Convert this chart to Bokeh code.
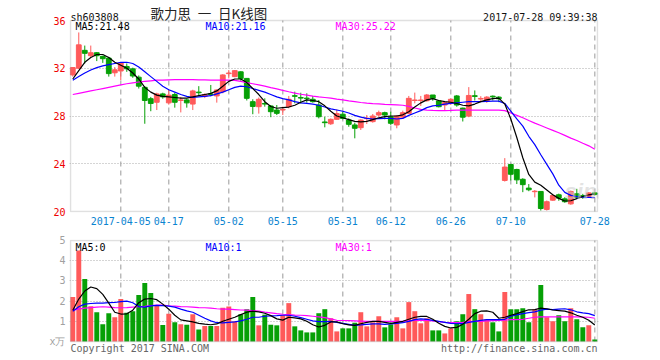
from bokeh.plotting import figure
from bokeh.models import Range1d, FixedTicker, BoxAnnotation
from bokeh.core.properties import value
from bokeh.layouts import column
from bokeh.embed import file_html
from bokeh.resources import INLINE

# ---------------- data ----------------
opens = [31.44, 32.0, 33.5, 33.05, 33.3, 33.0, 32.85, 31.62, 31.77, 32.15,
         31.95, 31.25, 30.4, 29.45, 29.15, 29.85, 29.1, 29.8, 29.3, 29.35,
         29.0, 30.0, 29.65, 29.85, 29.68, 30.04, 31.55, 31.3, 31.7, 31.15,
         29.2, 28.78, 29.05, 28.84, 28.5, 28.5, 28.78, 29.7, 29.55, 29.5,
         29.4, 28.92, 27.5, 27.35, 27.72, 28.15, 27.66, 27.25, 27.02, 27.78,
         27.53, 28.08, 28.28, 27.94, 27.25, 27.9, 28.22, 29.3, 29.3, 29.28,
         29.76, 29.26, 28.92, 29.12, 29.68, 28.66, 27.99, 29.7, 29.42, 29.22,
         29.66, 29.58, 22.6, 23.94, 23.52, 22.7, 21.96, 21.66, 21.68, 20.17,
         20.95, 21.4, 21.06, 20.64, 21.48, 21.34, 21.28, 21.56]
highs = [32.1, 35.0, 33.9, 33.9, 33.35, 33.05, 32.95, 32.1, 32.5, 32.4,
         32.05, 31.4, 30.5, 29.6, 29.95, 29.95, 30.2, 29.95, 29.6, 29.45,
         30.2, 30.5, 29.9, 30.6, 30.23, 31.5, 31.85, 31.85, 31.75, 31.15,
         29.4, 29.55, 29.48, 28.92, 28.92, 28.78, 29.68, 30.04, 29.95, 29.9,
         29.68, 29.34, 27.94, 27.8, 28.55, 28.36, 27.8, 27.44, 27.72, 28.08,
         28.17, 28.45, 28.36, 28.36, 28.08, 28.45, 29.68, 29.96, 29.68, 29.84,
         29.76, 29.34, 29.12, 29.48, 29.76, 28.7, 30.42, 30.14, 29.66, 29.66,
         29.72, 29.66, 24.47, 23.94, 23.58, 22.79, 22.3, 21.8, 21.68, 20.92,
         21.45, 21.5, 21.2, 21.76, 21.9, 21.48, 21.62, 21.62]
lows = [31.3, 31.95, 32.4, 32.9, 32.6, 32.45, 31.3, 31.3, 31.0, 31.7,
        31.2, 30.3, 27.35, 28.4, 28.5, 29.45, 28.95, 28.7, 28.3, 28.7,
        28.5, 29.7, 29.5, 29.65, 29.12, 29.9, 31.15, 31.25, 30.95, 29.3,
        28.15, 28.2, 28.78, 27.9, 28.08, 28.08, 28.64, 29.06, 29.06, 29.12,
        29.12, 27.8, 27.05, 27.25, 27.7, 27.72, 27.1, 26.13, 26.83, 27.33,
        27.44, 27.94, 27.72, 27.25, 26.97, 27.8, 28.17, 29.06, 28.84, 29.2,
        29.28, 28.72, 28.45, 28.92, 28.78, 27.54, 27.9, 29.3, 29.22, 29.1,
        29.3, 29.16, 22.51, 22.6, 22.3, 21.62, 21.7, 21.18, 20.08, 20.08,
        20.9, 20.9, 20.73, 20.56, 21.06, 21.06, 21.2, 21.34]
closes = [32.06, 33.96, 33.25, 33.3, 33.05, 32.8, 31.55, 31.87, 32.44, 31.95,
          31.35, 30.5, 29.3, 29.05, 29.85, 29.6, 29.75, 29.15, 29.35, 29.1,
          30.1, 29.95, 29.8, 29.8, 30.18, 31.44, 31.6, 31.8, 31.15, 29.48,
          28.8, 29.4, 29.0, 28.36, 28.22, 28.55, 29.4, 29.65, 29.5, 29.45,
          29.2, 27.94, 27.44, 27.72, 28.2, 27.8, 27.3, 26.97, 27.66, 27.82,
          28.0, 28.28, 28.08, 27.39, 28.0, 28.28, 29.48, 29.34, 29.34, 29.76,
          29.48, 28.78, 29.12, 29.4, 28.92, 27.9, 29.72, 29.64, 29.47, 29.58,
          29.6, 29.44, 23.72, 23.12, 22.65, 22.25, 21.82, 21.7, 20.25, 20.82,
          21.34, 21.12, 20.82, 21.68, 21.2, 21.22, 21.56, 21.42]
volumes = [2.2, 4.5, 3.1, 1.75, 1.45, 0.85, 1.4, 1.2, 2.1, 1.42,
           1.5, 2.3, 2.9, 2.4, 1.77, 0.82, 1.37, 0.95, 0.85, 0.83,
           1.35, 0.6, 0.77, 0.77, 0.77, 1.67, 1.73, 1.0, 1.35, 1.6,
           2.2, 0.8, 1.33, 0.83, 0.8, 1.3, 1.9, 0.75, 0.55, 0.45,
           0.45, 1.4, 1.6, 1.15, 0.5, 0.65, 0.65, 0.93, 1.45, 0.75,
           0.95, 1.25, 0.7, 0.85, 1.2, 0.65, 1.95, 1.5, 0.9, 1.15,
           0.55, 0.55, 0.4, 0.65, 1.0, 1.35, 2.35, 1.6, 1.35, 1.1,
           0.95, 0.5, 2.45, 1.6, 1.6, 1.65, 0.95, 1.6, 2.8, 1.2,
           1.0, 1.3, 1.0, 1.65, 1.1, 0.7, 0.8, 0.1]

ma5 = [31.1, 31.8, 32.5, 32.9, 33.15, 33.15, 32.9, 32.5, 32.25, 32.0,
       31.6, 31.1, 30.4, 30.0, 29.75, 29.65, 29.6, 29.55, 29.5, 29.5,
       29.6, 29.7, 29.8, 29.9, 30.1, 30.5, 30.9, 31.1, 31.1, 30.8,
       30.3, 29.8, 29.2, 28.8, 28.65, 28.7, 28.75, 28.9, 29.15, 29.35,
       29.3, 29.2, 28.85, 28.4, 28.0, 27.85, 27.7, 27.55, 27.5, 27.55,
       27.7, 27.85, 27.95, 28.0, 28.0, 28.1, 28.35, 28.75, 29.1, 29.35,
       29.45, 29.3, 29.2, 29.15, 29.05, 28.9, 28.85, 29.0, 29.2, 29.35,
       29.45, 29.5, 29.0, 27.75, 26.2, 24.5, 23.1, 22.46, 22.2, 21.8,
       21.4, 21.1, 20.88, 20.9, 21.08, 21.26, 21.4, 21.48]
ma10 = [31.0, 31.3, 31.6, 31.85, 32.05, 32.2, 32.3, 32.4, 32.5, 32.5,
        32.4, 32.1, 31.7, 31.3, 30.9, 30.5, 30.2, 30.0, 29.8, 29.65,
        29.55, 29.6, 29.65, 29.7, 29.85, 30.0, 30.2, 30.4, 30.5, 30.45,
        30.3, 30.15, 30.0, 29.8, 29.6, 29.45, 29.35, 29.2, 29.1, 29.05,
        29.0, 28.9, 28.75, 28.6, 28.5, 28.4, 28.25, 28.05, 27.9, 27.8,
        27.75, 27.78, 27.8, 27.8, 27.75, 27.8, 28.05, 28.25, 28.45, 28.7,
        28.85, 28.9, 29.0, 29.05, 29.1, 29.15, 29.2, 29.2, 29.2, 29.22,
        29.25, 29.25, 29.05, 28.4, 27.75, 27.15, 26.3, 25.6, 24.75, 23.95,
        23.15, 22.2, 21.6, 21.35, 21.25, 21.2, 21.18, 21.16]
ma30 = [29.8, 29.9, 30.0, 30.1, 30.2, 30.3, 30.4, 30.5, 30.6, 30.7,
        30.78, 30.85, 30.9, 30.95, 31.0, 31.0, 31.03, 31.05, 31.05, 31.05,
        31.05, 31.03, 31.02, 31.0, 31.0, 31.0, 31.0, 30.98, 30.9, 30.8,
        30.7, 30.6, 30.5, 30.38, 30.27, 30.15, 30.03, 29.92, 29.82, 29.75,
        29.67, 29.6, 29.55, 29.5, 29.42, 29.35, 29.27, 29.2, 29.13, 29.08,
        29.04, 29.01, 28.98, 28.96, 28.94, 28.9, 28.8, 28.67, 28.56, 28.5,
        28.47, 28.45, 28.45, 28.47, 28.5, 28.5, 28.5, 28.5, 28.5, 28.5,
        28.5, 28.5, 28.45, 28.25, 28.05, 27.85, 27.62, 27.4, 27.2, 27.0,
        26.8, 26.6, 26.38, 26.15, 25.95, 25.72, 25.5, 25.22]

vma5 = [1.55, 2.1, 2.5, 2.7, 2.62, 2.33, 1.9, 1.45, 1.36, 1.37,
        1.55, 1.92, 2.1, 2.13, 2.07, 1.85, 1.6, 1.3, 1.07, 1.02,
        0.97, 0.9, 0.86, 0.83, 0.87, 1.0, 1.1, 1.2, 1.33, 1.45,
        1.5, 1.47, 1.4, 1.28, 1.12, 1.06, 1.2, 1.17, 1.12, 1.0,
        0.83, 0.72, 0.8, 0.97, 0.97, 0.88, 0.82, 0.8, 0.88, 0.95,
        1.0, 1.0, 0.95, 0.9, 0.95, 1.0, 1.1, 1.2, 1.24, 1.24,
        1.1, 0.9, 0.75, 0.67, 0.7, 0.85, 1.1, 1.38, 1.5, 1.52,
        1.45, 1.15, 1.2, 1.3, 1.38, 1.48, 1.57, 1.58, 1.65, 1.62,
        1.56, 1.53, 1.5, 1.42, 1.3, 1.2, 1.05, 0.82]
vma10 = [1.5, 1.72, 1.85, 1.88, 1.9, 1.9, 1.92, 1.93, 1.97, 2.0,
         1.92, 1.73, 1.7, 1.76, 1.79, 1.78, 1.75, 1.7, 1.6, 1.52,
         1.45, 1.3, 1.15, 1.02, 0.93, 0.92, 0.95, 0.97, 1.02, 1.1,
         1.2, 1.2, 1.25, 1.27, 1.28, 1.3, 1.3, 1.25, 1.18, 1.1,
         1.02, 0.98, 0.98, 1.0, 0.95, 0.9, 0.85, 0.8, 0.82, 0.85,
         0.87, 0.87, 0.85, 0.87, 0.9, 0.93, 1.0, 1.08, 1.12, 1.1,
         1.05, 1.0, 0.95, 0.9, 0.88, 0.88, 0.95, 1.0, 1.05, 1.08,
         1.08, 1.08, 1.1, 1.25, 1.32, 1.38, 1.43, 1.47, 1.55, 1.6,
         1.58, 1.6, 1.62, 1.57, 1.47, 1.42, 1.38, 1.28]
vma30 = [1.55, 1.6, 1.65, 1.68, 1.7, 1.72, 1.7, 1.68, 1.67, 1.68,
         1.7, 1.72, 1.74, 1.78, 1.8, 1.8, 1.77, 1.75, 1.73, 1.72,
         1.7, 1.68, 1.67, 1.65, 1.62, 1.6, 1.6, 1.58, 1.56, 1.55,
         1.53, 1.5, 1.45, 1.42, 1.38, 1.35, 1.33, 1.31, 1.3, 1.28,
         1.25, 1.22, 1.18, 1.12, 1.05, 1.04, 1.03, 1.02, 1.01, 1.0,
         1.0, 1.0, 1.0, 1.0, 1.0, 1.0, 1.02, 1.04, 1.05, 1.05,
         1.02, 0.98, 0.95, 0.93, 0.93, 0.95, 0.98, 1.0, 1.0, 1.02,
         1.03, 1.04, 1.06, 1.08, 1.08, 1.1, 1.15, 1.2, 1.22, 1.22,
         1.22, 1.22, 1.22, 1.22, 1.22, 1.21, 1.2, 1.15]

tick_idx = [8, 16, 26, 35, 45, 53, 63, 73, 87]
tick_labels = ["2017-04-05", "04-17", "05-02", "05-15", "05-31",
               "06-12", "06-26", "07-10", "07-28"]
price_ticks = [20, 24, 28, 32, 36]
vol_ticks = [0, 1, 2, 3, 4, 5]

stock_code = "sh603808"
chart_title = "歌力思\u2002一\u2002日K线图"
timestamp = "2017-07-28 09:39:38"
copyright_text = "Copyright 2017 SINA.COM"
site_text = "http://finance.sina.com.cn"

# ---------------- styling ----------------
RED = "#ff5a5a"
GREEN = "#06a006"
GRID = "#aaaaaa"
FRAME = "#999999"
MONO = "DejaVu Sans Mono"

n = len(closes)
xs = list(range(n))
colors = [RED if c >= o else GREEN for o, c in zip(opens, closes)]
body_top = [max(o, c) for o, c in zip(opens, closes)]
body_bot = [min(o, c) for o, c in zip(opens, closes)]

# x: 6 px per bar, chart box from index XL to XR; frame 1px wider each side
XL, XR = -0.38, 87.45
XPX = 6.0
xr = Range1d(XL - 1 / XPX, XR + 1 / XPX)

P_LO, P_HI = price_ticks[0], price_ticks[-1]
PPX = 191 / (P_HI - P_LO)          # px per price unit
V_LO, V_HI = vol_ticks[0], vol_ticks[-1]
VPX = 101 / (V_HI - V_LO)          # px per volume unit


def style(fig):
    fig.background_fill_color = "white"
    fig.border_fill_color = "white"
    fig.outline_line_color = None
    for ax in (fig.xaxis, fig.yaxis):
        ax.axis_line_color = None
        ax.major_tick_in = 0
        ax.major_tick_out = 0
        ax.minor_tick_line_color = None
        ax.major_label_text_font = MONO
        ax.major_label_text_font_size = "10px"
    fig.xgrid.visible = False
    fig.ygrid.grid_line_color = GRID
    fig.ygrid.grid_line_dash = "1 2"
    fig.ygrid.grid_line_width = 1


# ---------------- price chart ----------------
p = figure(width=660, height=232, x_range=xr,
           y_range=Range1d(P_LO - 1 / PPX, P_HI + 20 / PPX),
           output_backend="svg", toolbar_location=None, title=None,
           min_border_left=69, min_border_right=62, min_border_top=0,
           min_border_bottom=20)
style(p)
p.yaxis.ticker = FixedTicker(ticks=price_ticks)
p.yaxis.major_label_text_color = "#ee0000"
p.yaxis.major_label_standoff = 4
p.xaxis.ticker = FixedTicker(ticks=tick_idx)
p.xaxis.major_label_overrides = {t: l for t, l in zip(tick_idx, tick_labels)}
p.xaxis.major_label_text_color = "#0a84d0"
p.xaxis.major_label_standoff = 4
p.ygrid.ticker = FixedTicker(ticks=price_ticks[1:-1])

p.segment(x0=tick_idx, y0=[P_LO] * len(tick_idx), x1=tick_idx,
          y1=[P_HI] * len(tick_idx), line_color=GRID, line_dash="5 4",
          line_width=1.2)
p.add_layout(BoxAnnotation(left=XL, right=XR, bottom=P_LO, top=P_HI,
                           fill_color=None, line_color=FRAME, line_width=1.5))

p.segment(xs, highs, xs, lows, color=colors, line_width=1)
p.vbar(x=xs, width=0.8, top=body_top, bottom=body_bot,
       fill_color=colors, line_color=colors, line_width=1)
p.line(xs, ma30, color="#ff00ff", line_width=1.2)
p.line(xs, ma10, color="#0000ff", line_width=1.2)
p.line(xs, ma5, color="black", line_width=1.2)

p.text(x=[82.0], y=[20.6], text=["sina"], text_font=value("Liberation Sans"),
       text_font_style="bold italic", text_font_size="22px",
       text_color="#cccccc", text_alpha=0.55)

p.text(x=[0.45, 22.1, 43.8],
       y=[P_HI - 6 / PPX] * 3,
       text=["MA5:%.2f" % ma5[-1], "MA10:%.2f" % ma10[-1], "MA30:%.2f" % ma30[-1]],
       text_color=["black", "#0000ff", "#ff00ff"],
       text_font=value(MONO), text_font_size="10px", text_baseline="middle")

p.text(x=[XL], y=[P_HI + 3.5 / PPX], text=[stock_code], text_font=value(MONO),
       text_font_size="10px", text_color="#111111", text_baseline="alphabetic")
p.text(x=[12.95], y=[P_HI + 7.5 / PPX], text=[chart_title],
       text_font=value("Noto Sans CJK SC"), text_font_size="13.5px",
       text_color="#222222", text_baseline="middle")
p.text(x=[XR], y=[P_HI + 3.5 / PPX], text=[timestamp], text_font=value(MONO),
       text_font_size="10px", text_color="#111111", text_align="right",
       text_baseline="alphabetic")

# ---------------- volume chart ----------------
v = figure(width=660, height=128, x_range=xr,
           y_range=Range1d(V_LO - 19 / VPX, V_HI + 1 / VPX),
           output_backend="svg", toolbar_location=None, title=None,
           min_border_left=69, min_border_right=62, min_border_top=7,
           min_border_bottom=0)
style(v)
v.xaxis.visible = False
v.yaxis.ticker = FixedTicker(ticks=vol_ticks)
v.yaxis.major_label_overrides = {0: "x万"}
v.yaxis.major_label_text_color = "#a0a0a0"
v.yaxis.major_label_standoff = 4
v.ygrid.ticker = FixedTicker(ticks=vol_ticks[1:-1])

v.segment(x0=tick_idx, y0=[V_LO] * len(tick_idx), x1=tick_idx,
          y1=[V_HI] * len(tick_idx), line_color=GRID, line_dash="5 4",
          line_width=1.2)
v.add_layout(BoxAnnotation(left=XL, right=XR, bottom=V_LO, top=V_HI,
                           fill_color=None, line_color=FRAME, line_width=1.5))

v.vbar(x=xs, width=0.82, top=volumes, bottom=0,
       fill_color=colors, line_color=None)
v.line(xs, vma30, color="#ff00ff", line_width=1.2)
v.line(xs, vma10, color="#0000ff", line_width=1.2)
v.line(xs, vma5, color="black", line_width=1.2)

v.text(x=[0.45, 22.1, 43.8],
       y=[V_HI - 6.5 / VPX] * 3,
       text=["MA5:%d" % int(vma5[-1]), "MA10:%d" % int(vma10[-1]),
             "MA30:%d" % int(vma30[-1])],
       text_color=["black", "#0000ff", "#ff00ff"],
       text_font=value(MONO), text_font_size="10px", text_baseline="middle")

v.text(x=[XL], y=[V_LO - 1 / VPX], text=[copyright_text], text_font=value(MONO),
       text_font_size="10px", text_color="#666666", text_baseline="top")
v.text(x=[XR], y=[V_LO - 1 / VPX], text=[site_text], text_font=value(MONO),
       text_font_size="10px", text_color="#666666", text_baseline="top",
       text_align="right")

layout = column(p, v)
open("out.html", "w").write(file_html(layout, INLINE))
